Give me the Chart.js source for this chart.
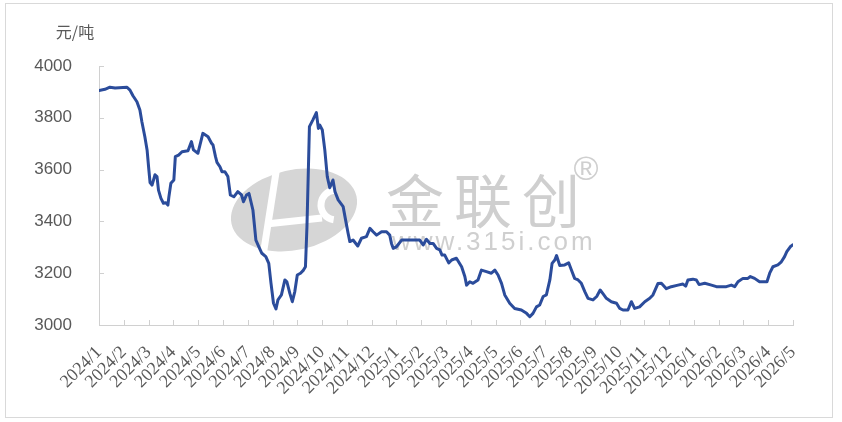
<!DOCTYPE html>
<html><head><meta charset="utf-8">
<script src="https://cdn.jsdelivr.net/npm/chart.js@4.4.1/dist/chart.umd.min.js"></script>
<style>
html,body{margin:0;padding:0;background:#fff;}
#wrap{position:relative;width:842px;height:422px;}
#frame{position:absolute;left:5px;top:3px;width:828px;height:415px;border:1px solid #d9d9d9;box-sizing:border-box;pointer-events:none;}
</style></head><body>
<div id="wrap"><canvas id="c"></canvas><div id="frame"></div></div>
<script>
const unitLabel = '元/吨';
const monthLabels = ['2024/1','2024/2','2024/3','2024/4','2024/5','2024/6','2024/7','2024/8','2024/9','2024/10','2024/11','2024/12',
  '2025/1','2025/2','2025/3','2025/4','2025/5','2025/6','2025/7','2025/8','2025/9','2025/10','2025/11','2025/12',
  '2026/1','2026/2','2026/3','2026/4','2026/5'];
// position in months since 2024/1
const monthPos = [0,0.24,0.44,0.65,1.13,1.25,1.37,1.53,1.65,1.73,
  1.85,1.94,2.00,2.06,2.14,2.26,2.34,2.40,2.50,2.60,
  2.70,2.78,2.82,2.90,3.02,3.08,3.21,3.35,3.59,3.73,
  3.81,3.99,4.19,4.40,4.54,4.60,4.70,4.76,4.88,4.96,
  5.08,5.20,5.30,5.44,5.60,5.75,5.83,5.95,6.05,6.21,
  6.33,6.45,6.57,6.73,6.85,6.94,7.04,7.14,7.22,7.36,
  7.50,7.58,7.70,7.80,7.90,8.00,8.13,8.25,8.33,8.39,
  8.49,8.63,8.77,8.85,8.91,9.01,9.11,9.21,9.31,9.44,
  9.52,9.65,9.85,9.95,10.05,10.12,10.25,10.44,10.59,10.79,
  10.93,11.06,11.20,11.40,11.60,11.73,11.80,11.87,12.00,12.21,
  12.94,13.08,13.21,13.35,13.48,13.62,13.75,13.84,13.95,14.11,
  14.23,14.42,14.63,14.76,14.83,14.96,15.09,15.29,15.43,15.63,
  15.83,15.97,16.10,16.24,16.37,16.57,16.77,17.04,17.25,17.38,
  17.51,17.65,17.78,17.92,18.05,18.19,18.28,18.39,18.46,18.59,
  18.79,18.95,19.06,19.19,19.33,19.46,19.60,19.73,19.93,20.08,
  20.22,20.34,20.47,20.67,20.88,21.01,21.14,21.34,21.48,21.61,
  21.81,22.02,22.22,22.35,22.55,22.69,22.89,23.09,23.36,23.56,
  23.67,23.76,23.96,24.10,24.21,24.44,24.71,24.91,25.31,25.51,
  25.65,25.78,25.98,26.18,26.28,26.45,26.65,26.95,27.06,27.19,
  27.39,27.53,27.66,27.75,27.89,28.00];
const prices = [3905,3910,3918,3915,3918,3907,3885,3862,3830,3785,
  3727,3676,3611,3550,3540,3580,3573,3521,3489,3470,
  3472,3463,3495,3547,3560,3650,3656,3669,3673,3708,
  3676,3663,3740,3727,3702,3695,3650,3628,3611,3592,
  3592,3573,3502,3495,3515,3502,3476,3502,3508,3444,
  3328,3302,3277,3264,3238,3161,3084,3062,3097,3116,
  3174,3167,3122,3090,3129,3193,3200,3212,3225,3380,
  3766,3792,3820,3759,3772,3753,3676,3573,3530,3560,
  3515,3483,3457,3405,3354,3322,3328,3305,3335,3341,
  3373,3360,3347,3360,3360,3347,3315,3296,3302,3328,
  3328,3309,3331,3315,3315,3296,3290,3270,3270,3240,
  3251,3258,3225,3187,3154,3167,3161,3174,3212,3206,
  3200,3212,3193,3161,3116,3084,3064,3058,3045,3032,
  3045,3070,3077,3110,3116,3174,3238,3251,3268,3230,
  3232,3240,3212,3180,3174,3161,3129,3103,3097,3110,
  3135,3120,3103,3090,3084,3064,3058,3058,3090,3064,
  3070,3090,3103,3116,3160,3161,3140,3148,3154,3158,
  3150,3174,3177,3174,3156,3161,3154,3148,3148,3154,
  3148,3167,3180,3180,3187,3180,3167,3167,3200,3225,
  3232,3244,3264,3283,3302,3310];
const yMin = 3000, yMax = 4000, yStep = 200;

const gray = '#595959';
const axisColor = '#d0d0d0';

const watermark = {
  id: 'watermark',
  beforeDatasetsDraw(chart) {
    const ctx = chart.ctx;
    ctx.save();
    // logo
    ctx.fillStyle = '#d6d6d6';
    ctx.beginPath(); ctx.ellipse(294, 210, 64, 40, -0.22, 0, Math.PI * 2); ctx.fill();
    ctx.strokeStyle = '#ffffff'; ctx.lineWidth = 7; ctx.lineCap = 'butt';
    ctx.beginPath(); ctx.moveTo(277, 166); ctx.lineTo(263, 256); ctx.stroke();
    ctx.beginPath(); ctx.moveTo(266, 224); ctx.lineTo(322, 218); ctx.stroke();
    ctx.beginPath(); ctx.arc(336, 205, 15, 0.55 * Math.PI, 1.45 * Math.PI); ctx.stroke();
    // text
    ctx.fillStyle = '#cfcfcf';
    ctx.textBaseline = 'middle'; ctx.textAlign = 'left';
    ctx.font = '58px "Noto Sans CJK SC"';
    ctx.letterSpacing = '10px';
    ctx.fillText('金联创', 386, 201);
    ctx.letterSpacing = '3px';
    ctx.font = '26px "Liberation Sans"';
    ctx.fillText('www.315i.com', 392, 243);
    ctx.letterSpacing = '0px';
    ctx.font = '34px "Liberation Sans"';
    ctx.textAlign = 'center';
    ctx.fillText('®', 586, 171);
    ctx.restore();
  }
};

const innerTicks = {
  id: 'innerTicks',
  beforeDatasetsDraw(chart) {
    const {ctx, scales: {x, y}, chartArea: a} = chart;
    ctx.save();
    ctx.strokeStyle = axisColor; ctx.lineWidth = 1;
    ctx.beginPath();
    x.ticks.forEach(t => { const px = Math.round(x.getPixelForValue(t.value)) + 0.5; ctx.moveTo(px, a.bottom); ctx.lineTo(px, a.bottom - 5); });
    y.ticks.forEach(t => { const py = Math.round(y.getPixelForValue(t.value)) + 0.5; ctx.moveTo(a.left, py); ctx.lineTo(a.left + 5, py); });
    ctx.stroke();
    ctx.restore();
  }
};

const unitTitle = {
  id: 'unitTitle',
  afterDraw(chart) {
    const {ctx, chartArea: a} = chart;
    ctx.save();
    ctx.fillStyle = gray;
    ctx.font = '16px "Noto Sans CJK SC"';
    ctx.textAlign = 'center'; ctx.textBaseline = 'middle';
    ctx.fillText(unitLabel, a.left - 24, a.top - 34);
    ctx.restore();
  }
};

new Chart(document.getElementById('c'), {
  type: 'line',
  data: {
    datasets: [{
      data: monthPos.map((t, i) => ({x: t, y: prices[i]})),
      borderColor: '#2B4C9B',
      borderWidth: 3,
      pointRadius: 0,
      tension: 0,
      borderJoinStyle: 'round',
      borderCapStyle: 'round',
      fill: false
    }]
  },
  options: {
    responsive: true,
    maintainAspectRatio: false,
    animation: false,
    devicePixelRatio: 1,
    layout: {padding: {top: 66, right: 49, bottom: 0, left: 0}},
    plugins: {legend: {display: false}, tooltip: {enabled: false}},
    scales: {
      x: {
        type: 'linear', min: 0, max: monthLabels.length - 1,
        afterFit: s => { s.height = 97; },
        ticks: {
          stepSize: 1, autoSkip: false, maxRotation: 45, minRotation: 45,
          padding: 17, color: gray,
          font: {family: '"Liberation Serif"', size: 18},
          callback: v => monthLabels[v]
        },
        grid: {display: true, drawOnChartArea: false, drawTicks: false},
        border: {display: true, color: axisColor, width: 1}
      },
      y: {
        min: yMin, max: yMax,
        afterFit: s => { s.width = 99; },
        ticks: {stepSize: yStep, padding: 27, color: gray, font: {family: '"Liberation Sans"', size: 17},
          callback: v => String(v)},
        grid: {display: true, drawOnChartArea: false, drawTicks: false},
        border: {display: true, color: axisColor, width: 1}
      }
    }
  },
  plugins: [watermark, innerTicks, unitTitle]
});
</script>
</body></html>
